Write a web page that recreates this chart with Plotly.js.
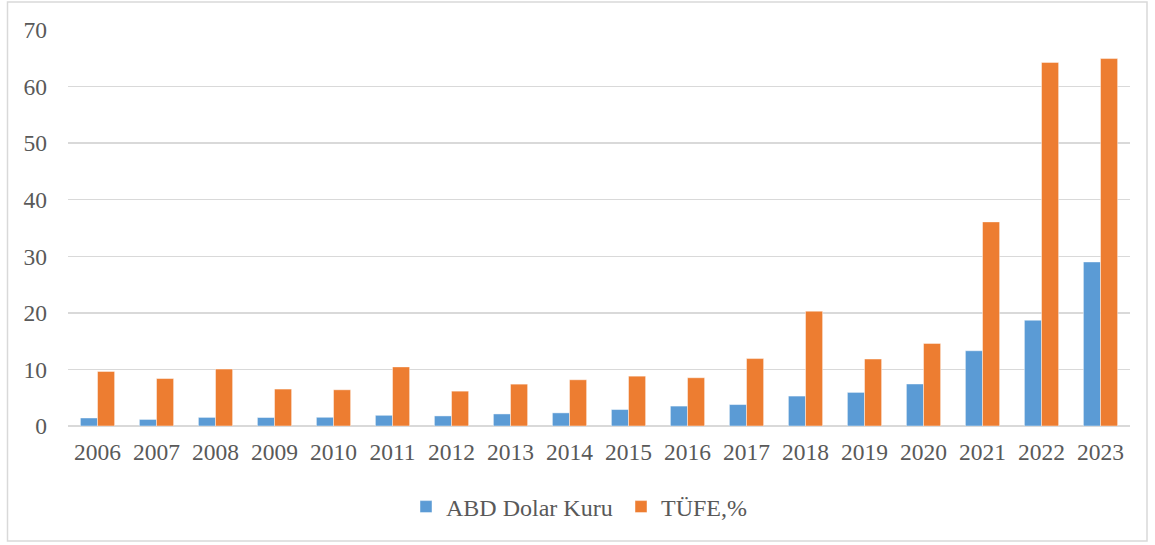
<!DOCTYPE html>
<html>
<head>
<meta charset="utf-8">
<script src="https://cdn.plot.ly/plotly-3.0.1.min.js"></script>
<style>
html,body{margin:0;padding:0;background:#fff;}
#chart{width:1155px;height:545px;}
</style>
</head>
<body>
<div id="chart"></div>
<script>
const years = ["2006","2007","2008","2009","2010","2011","2012","2013","2014","2015","2016","2017","2018","2019","2020","2021","2022","2023"];
const usdRate = [1.42, 1.16, 1.52, 1.50, 1.54, 1.89, 1.78, 2.13, 2.32, 2.91, 3.52, 3.79, 5.29, 5.94, 7.43, 13.30, 18.70, 29.00];
const cpi = [9.65, 8.39, 10.06, 6.53, 6.40, 10.45, 6.16, 7.40, 8.17, 8.81, 8.53, 11.92, 20.30, 11.84, 14.60, 36.08, 64.27, 64.95];
const seriesNames = ["ABD Dolar Kuru", "TÜFE,%"];
const yTicks = [0, 10, 20, 30, 40, 50, 60, 70];

const fam = "Liberation Serif, Times New Roman, serif";
const txt = "#595959";

const traces = [
  {type: "bar", name: seriesNames[0], x: years, y: usdRate,
   marker: {color: "#5B9BD5", line: {color: "rgba(255,255,255,0.45)", width: 1}}},
  {type: "bar", name: seriesNames[1], x: years, y: cpi,
   marker: {color: "#ED7D31", line: {color: "rgba(255,255,255,0.45)", width: 1}}}
];

const L = 68, R = 1130, T = 30, B = 426, W = 1155, H = 545;
const pw = R - L, ph = B - T;
const px = v => (v - L) / pw;
const py = v => (B - v) / ph;

const layout = {
  width: W, height: H,
  margin: {l: L, r: W - R, t: T, b: H - B, pad: 0},
  paper_bgcolor: "#fff", plot_bgcolor: "#fff",
  font: {family: fam, color: txt, size: 23.5},
  barmode: "group", bargap: 0.42, bargroupgap: 0,
  xaxis: {type: "category", showgrid: false, zeroline: false, showline: false,
          ticks: "", ticklabelstandoff: 9, tickfont: {size: 23.5, color: txt, family: fam}},
  yaxis: {range: [0, 70], tickvals: yTicks, ticktext: yTicks.map(String),
          showgrid: true, gridcolor: "#d9d9d9", gridwidth: 1.5,
          zeroline: true, zerolinecolor: "#d9d9d9", zerolinewidth: 1.5,
          showline: false, ticks: "", ticklabelstandoff: 20,
          tickfont: {size: 23.5, color: txt, family: fam}},
  showlegend: true,
  legend: {orientation: "h", x: px(406), xanchor: "left", y: py(507), yanchor: "middle",
           font: {size: 24, color: txt, family: fam},
           itemwidth: 30, entrywidth: 170, entrywidthmode: "pixels",
           tracegroupgap: 0, bgcolor: "rgba(0,0,0,0)"},
  shapes: [
    {type: "rect", xref: "paper", yref: "paper",
     x0: px(7.5), x1: px(1147), y0: py(541), y1: py(2),
     line: {color: "#d9d9d9", width: 1.5}, fillcolor: "rgba(0,0,0,0)", layer: "below"}
  ]
};

Plotly.newPlot("chart", traces, layout, {displayModeBar: false, staticPlot: true});
</script>
</body>
</html>
